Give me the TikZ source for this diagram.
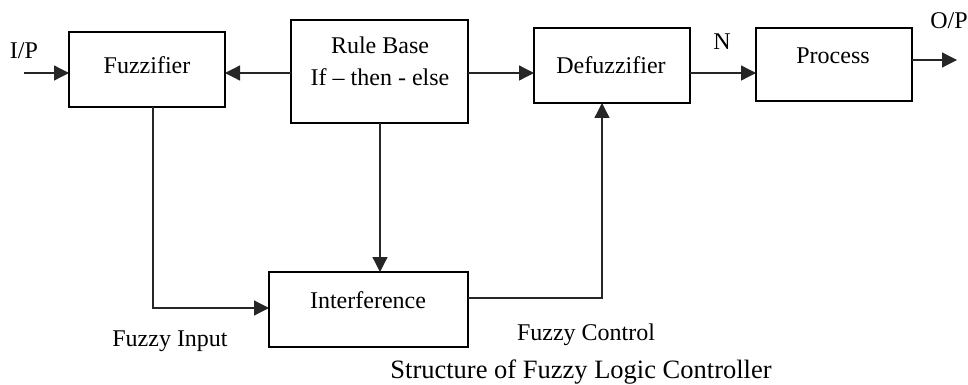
\documentclass[tikz,border=0pt]{standalone}
\usepackage{fontspec}
\setmainfont{Liberation Serif}
\usetikzlibrary{arrows.meta}
\begin{document}
\begin{tikzpicture}[x=0.5pt,y=-0.5pt,
  box/.style={draw=black, line width=0.65pt, inner sep=0pt, outer sep=0pt},
  lbl/.style={inner sep=0pt, font=\fontsize{12pt}{14pt}\selectfont},
  wire/.style={draw=black!85, line width=0.65pt},
  arr/.style={wire, -{Triangle[length=7.5pt,width=7.5pt]}}]
\useasboundingbox (0,0) rectangle (968,385);
% boxes
\node[box, minimum width=78pt, minimum height=37.5pt] (fuzz) at (147,69.5) {};
\node[box, minimum width=88.5pt, minimum height=51.5pt] (rule) at (379.5,71.5) {};
\node[box, minimum width=78pt, minimum height=37.5pt] (defuzz) at (612,65.5) {};
\node[box, minimum width=78pt, minimum height=36.5pt] (proc) at (834,64.5) {};
\node[box, minimum width=99.5pt, minimum height=37.5pt] (inter) at (368.5,309.5) {};
% box texts
\node[lbl] (tfuzz) at (147,65) {Fuzzifier};
\node[lbl] (trule1) at (380,45) {Rule Base};
\node[lbl] (trule2) at (380,77) {If – then - else};
\node[lbl] (tdefuzz) at (611,65) {Defuzzifier};
\node[lbl] (tproc) at (833,56) {Process};
\node[lbl] (tinter) at (368,300) {Interference};
% other labels
\node[lbl] (tip) at (24,51) {I/P};
\node[lbl] (tn) at (722,42) {N};
\node[lbl, anchor=east] (top) at (968,21) {O/P};
\node[lbl] (tfin) at (170,341) {Fuzzy Input};
\node[lbl] (tfc) at (586,335) {Fuzzy Control};
\node[inner sep=0pt, font=\fontsize{13.25pt}{15pt}\selectfont] (cap) at (581,372) {Structure of Fuzzy Logic Controller};
% helper coordinates
\coordinate (iin) at (24,73);
\coordinate (row) at (0,73);
\coordinate (oout) at (957,60);
\coordinate (fin) at (153,308);
\coordinate (fc) at (602,298);
% connectors
\draw[arr] (iin) -- (fuzz.west |- iin);
\draw[arr] (rule.west |- row) -- (fuzz.east |- row);
\draw[arr] (rule.east |- row) -- (defuzz.west |- row);
\draw[arr] (defuzz.east |- row) -- (proc.west |- row);
\draw[arr] (proc.east |- oout) -- (oout);
\draw[arr] (fuzz.south -| fin) -- (fin) -- (inter.west |- fin);
\draw[arr] (rule.south -| 380,0) -- (inter.north -| 380,0);
\draw[arr] (inter.east |- fc) -- (fc) -- (defuzz.south -| fc);
\end{tikzpicture}
\end{document}
